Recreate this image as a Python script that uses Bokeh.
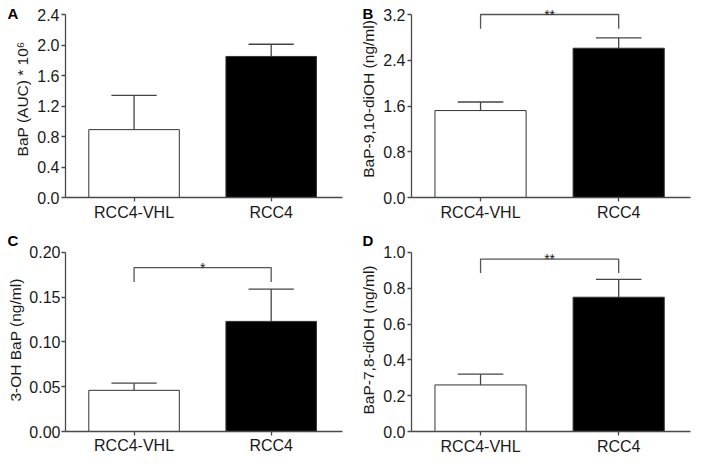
from bokeh.plotting import figure
from bokeh.layouts import gridplot
from bokeh.models import Range1d, FixedTicker, NumeralTickFormatter, Label
from bokeh.core.properties import value
from bokeh.embed import file_html
from bokeh.resources import INLINE

# ---------------- data ----------------
categories = ["RCC4-VHL", "RCC4"]

A_mean = [0.89, 1.85]
A_err = [0.45, 0.16]
A_ticks = [0.0, 0.4, 0.8, 1.2, 1.6, 2.0, 2.4]

B_mean = [1.52, 2.61]
B_err = [0.15, 0.18]
B_ticks = [0.0, 0.8, 1.6, 2.4, 3.2]
B_bracket = 3.2
B_leg = 2.95
B_sig = "**"

C_mean = [0.046, 0.123]
C_err = [0.008, 0.036]
C_ticks = [0.00, 0.05, 0.10, 0.15, 0.20]
C_bracket = 0.183
C_leg = 0.167
C_sig = "*"

D_mean = [0.26, 0.75]
D_err = [0.06, 0.10]
D_ticks = [0.0, 0.2, 0.4, 0.6, 0.8, 1.0]
D_bracket = 0.963
D_leg = 0.885
D_sig = "**"

FONT = "Liberation Sans"
AXIS_COL = "#4a4a4a"
TEXT_COL = "#1a1a1a"
FS = "16px"
LFS = "15.5px"


def panel(letter, ylabel, means, errs, ticks, fmt, bracket, leg, sig,
          width, height, left, right, bottom, mtop, top_px, letter_place,
          letter_dx, letter_dy, standoff):
    top = ticks[-1]
    frame_h = height - bottom - mtop
    axis_px = height - bottom - top_px
    y_end = top * frame_h / axis_px
    p = figure(width=width, height=height, output_backend="svg",
               toolbar_location=None, title=None,
               x_range=Range1d(-0.5, 1.52), y_range=Range1d(0, y_end),
               min_border_left=left, min_border_right=right,
               min_border_top=mtop, min_border_bottom=bottom)
    p.outline_line_color = None
    p.background_fill_color = "white"
    p.border_fill_color = "white"
    p.xgrid.visible = False
    p.ygrid.visible = False

    xs = list(range(len(categories)))
    fills = ["white", "black"]
    p.vbar(x=xs, top=means, width=0.66, bottom=0, fill_color=fills,
           line_color="#333333", line_width=1)
    tops = [m + e for m, e in zip(means, errs)]
    p.segment(x0=xs, y0=means, x1=xs, y1=tops, line_color="#444444", line_width=1.3)
    p.segment(x0=[x - 0.165 for x in xs], y0=tops, x1=[x + 0.165 for x in xs],
              y1=tops, line_color="#444444", line_width=1.3)

    if bracket is not None:
        p.line(x=[xs[0], xs[0], xs[1], xs[1]], y=[leg, bracket, bracket, leg],
               line_color="#555555", line_width=1.3)
        p.text(x=[(xs[0] + xs[1]) / 2], y=[bracket], text=[sig],
               text_align="center", text_baseline="alphabetic",
               text_font=value(FONT), text_font_size="14px", text_color=TEXT_COL)

    yax = p.yaxis[0]
    yax.ticker = FixedTicker(ticks=ticks)
    yax.formatter = NumeralTickFormatter(format=fmt)
    yax.bounds = (0, top)
    yax.axis_label = ylabel
    xax = p.xaxis[0]
    xax.ticker = FixedTicker(ticks=xs)
    xax.major_label_overrides = {x: c for x, c in zip(xs, categories)}
    for ax in (xax, yax):
        ax.axis_line_color = AXIS_COL
        ax.axis_line_width = 1.3
        ax.major_tick_line_color = AXIS_COL
        ax.major_tick_line_width = 1.3
        ax.major_tick_out = 4
        ax.major_tick_in = 0
        ax.minor_tick_line_color = None
        ax.major_label_standoff = standoff
        ax.major_label_text_font = FONT
        ax.major_label_text_font_size = FS
        ax.major_label_text_color = TEXT_COL
        ax.axis_label_text_font = FONT
        ax.axis_label_text_font_size = LFS
        ax.axis_label_text_font_style = "normal"
        ax.axis_label_text_color = TEXT_COL
        ax.axis_label_standoff = standoff + 1

    if letter_place == "above":
        lab = Label(x=-0.5, y=0, y_units="screen", x_offset=letter_dx,
                    y_offset=letter_dy, text=letter, text_font=FONT,
                    text_font_size="15px", text_font_style="bold",
                    text_color="black", text_baseline="bottom", text_align="left")
    else:
        lab = Label(x=-0.5, y=top, x_offset=letter_dx, y_offset=letter_dy,
                    text=letter, text_font=FONT, text_font_size="15px",
                    text_font_style="bold", text_color="black",
                    text_baseline="top", text_align="left")
    p.add_layout(lab, letter_place)
    return p


pA = panel("A", "BaP (AUC) * 10⁶", A_mean, A_err, A_ticks, "0.0", None, None, None,
           346, 224, 54, 4, 27, 0, 14, "left", -58, 10, 2)
pB = panel("B", "BaP-9,10-diOH (ng/ml)", B_mean, B_err, B_ticks, "0.0",
           B_bracket, B_leg, B_sig, 346, 224, 64, 2, 27, 0, 14, "left", -49, 10, 2)
pC = panel("C", "3-OH BaP (ng/ml)", C_mean, C_err, C_ticks, "0.00",
           C_bracket, C_leg, C_sig, 346, 233, 54, 4, 24, 24, 28, "above", -58, 0, 1)
pD = panel("D", "BaP-7,8-diOH (ng/ml)", D_mean, D_err, D_ticks, "0.0",
           D_bracket, D_leg, D_sig, 346, 233, 64, 2, 24, 24, 28, "above", -49, 0, 2)

grid = gridplot([[pA, pB], [pC, pD]], toolbar_location=None)

open("out.html", "w").write(file_html(grid, INLINE))
